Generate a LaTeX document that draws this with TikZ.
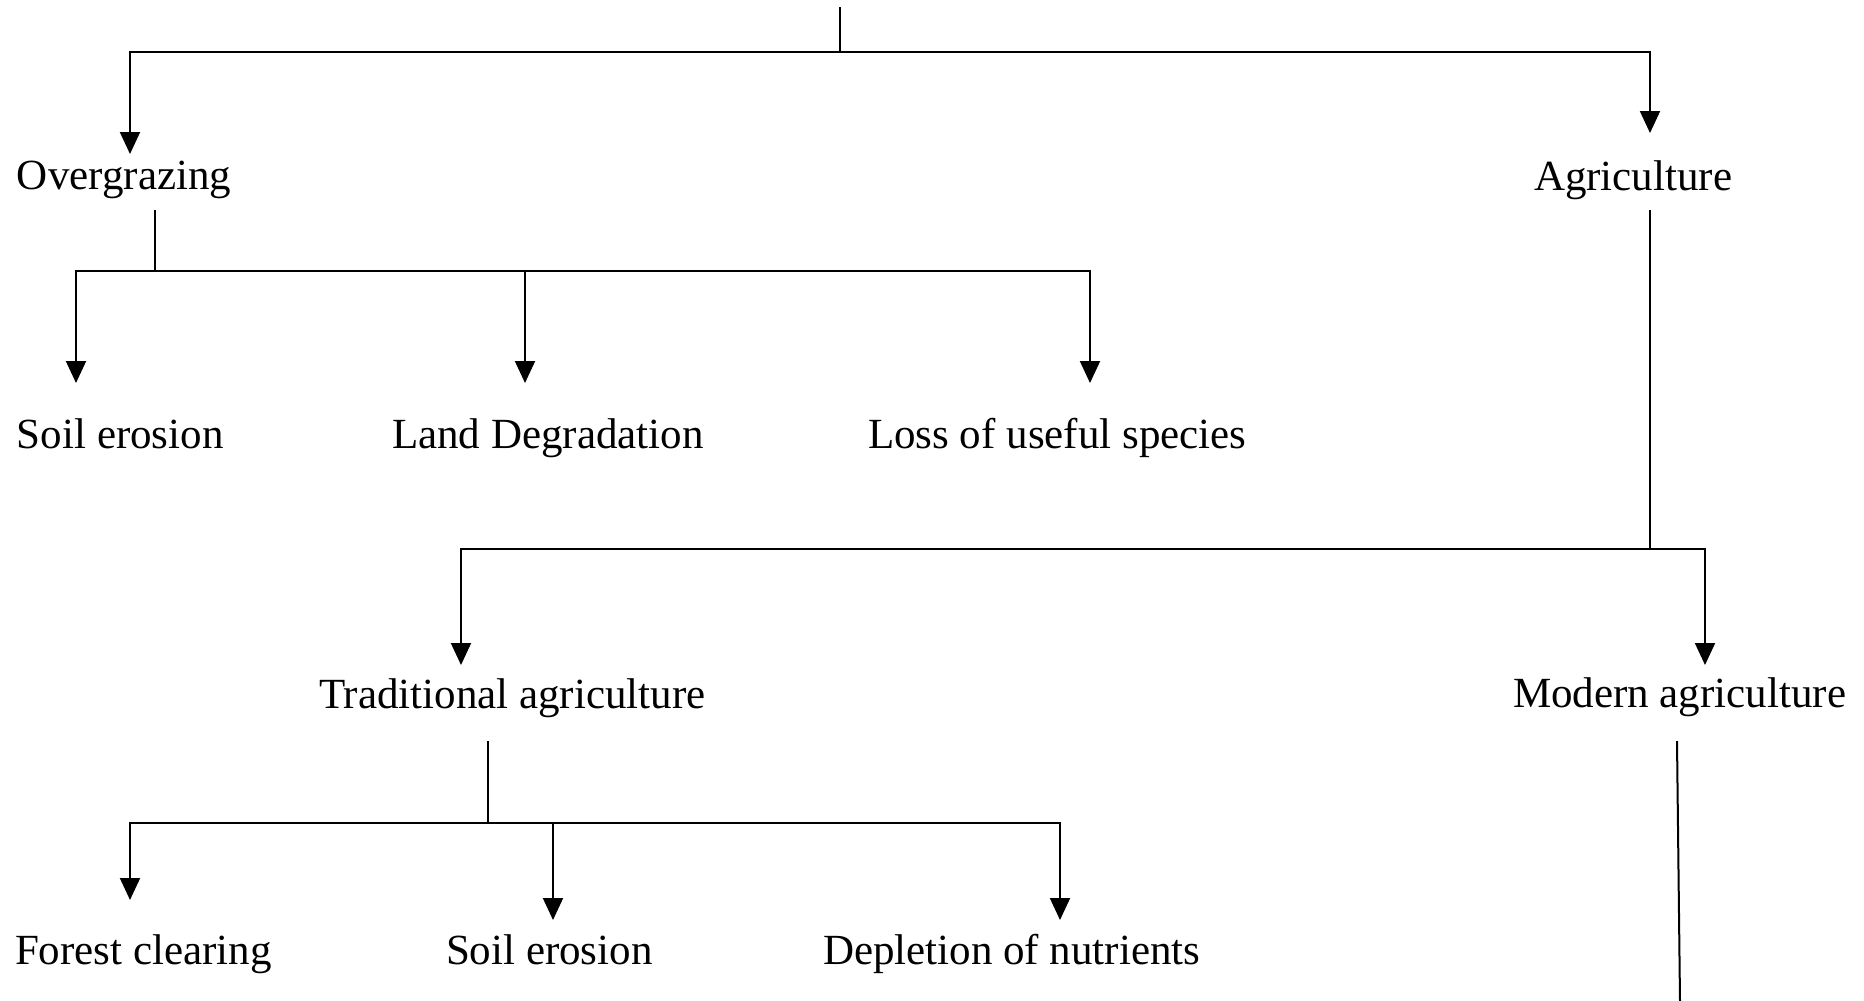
\documentclass[tikz,border=0pt]{standalone}
\usepackage{fontspec}
\setmainfont{Liberation Serif}
\usetikzlibrary{arrows.meta, calc}

\begin{document}
\begin{tikzpicture}[
    x=0.5pt, y=-0.5pt,
    item/.style={
        inner sep=0pt, outer sep=0pt, anchor=base west,
        font=\fontsize{21.5}{24}\selectfont,
    },
    stub/.style={draw=black, line width=1pt},
    conn/.style={draw=black, line width=1pt, -{Triangle[length=11pt, width=10pt]}},
]
\useasboundingbox (0,0) rectangle (1864,1001);

% Labels
\node[item] (over)   at (17,189)   {Overgrazing};
\node[item] (agri)   at (1534,190) {Agriculture};
\node[item] (soila)  at (17,448)   {Soil erosion};
\node[item] (land)   at (392,448)  {Land Degradation};
\node[item] (loss)   at (868,448)  {Loss of useful species};
\node[item] (trad)   at (319,708)  {Traditional agriculture};
\node[item] (modern) at (1513,707) {Modern agriculture};
\node[item] (forest) at (15,964)   {Forest clearing};
\node[item] (soilb)  at (446,964)  {Soil erosion};
\node[item] (deplet) at (823,964)  {Depletion of nutrients};

% Branch points and free ends
\coordinate (root)    at (840,7);
\coordinate (j-root)  at (840,52);
\coordinate (j-over)  at (155,271);
\coordinate (j-agri)  at (1650,549);
\coordinate (j-trad)  at (488,823);
\coordinate (mod-end) at (1680,1001);

% Top level
\draw[stub] (root) -- (j-root);
\draw[conn] (j-root) -| ($(over.base west)+(113,-35)$);
\draw[conn] (j-root) -| ($(agri.base west)+(116,-57)$);

% Overgrazing
\draw[stub] ($(over.base west)+(138,21)$) -- (j-over);
\draw[conn] (j-over) -| ($(soila.base west)+(59,-65)$);
\draw[conn] (j-over) -| ($(land.base west)+(133,-65)$);
\draw[conn] (j-over) -| ($(loss.base west)+(222,-65)$);

% Agriculture
\draw[stub] ($(agri.base west)+(116,20)$) -- (j-agri);
\draw[conn] (j-agri) -| ($(trad.base west)+(142,-43)$);
\draw[conn] (j-agri) -| ($(modern.base west)+(192,-42)$);

% Traditional agriculture
\draw[stub] ($(trad.base west)+(169,33)$) -- (j-trad);
\draw[conn] (j-trad) -| ($(forest.base west)+(115,-64)$);
\draw[conn] (j-trad) -| ($(soilb.base west)+(107,-44)$);
\draw[conn] (j-trad) -| ($(deplet.base west)+(237,-44)$);

% Modern agriculture
\draw[stub] ($(modern.base west)+(164,34)$) -- (mod-end);

\end{tikzpicture}
\end{document}
